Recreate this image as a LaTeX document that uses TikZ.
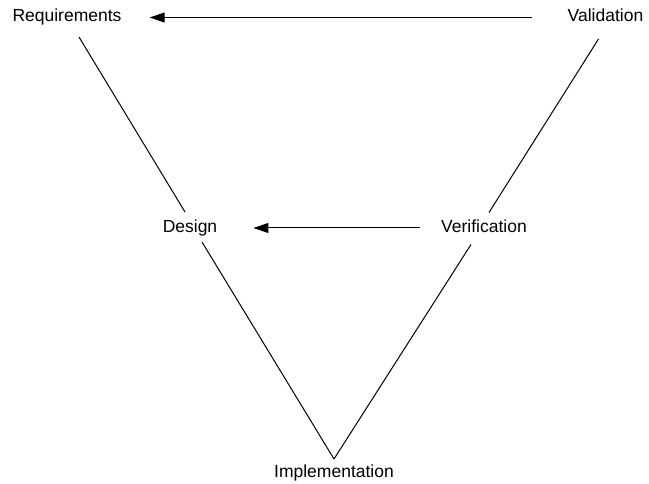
\documentclass[tikz,border=0pt]{standalone}
\usepackage{fontspec}
\setmainfont{Liberation Sans}
\usetikzlibrary{arrows.meta}

\begin{document}
\begin{tikzpicture}[x=1pt, y=-1pt,
  phase/.style={inner sep=0pt, anchor=base, text height=12pt, text depth=3pt, font=\fontsize{17.5}{20}\selectfont},
  arr/.style={-{Triangle[length=15pt, width=10pt]}, line width=1pt},
  leg/.style={line width=1pt}
]
\useasboundingbox (0,0) rectangle (649,484);

% Phases of the V
\node[phase] (req) at (67,22) {Requirements};
\node[phase] (val) at (605.5,22) {Validation};
\node[phase] (des) at (190,232.5) {Design};
\node[phase] (ver) at (484,232.5) {Verification};
\node[phase] (imp) at (334,477) {Implementation};

% Legs of the V
\draw[leg] ([shift={(12,15)}]req.base) -- ([shift={(-5,-20.5)}]des.base);
\draw[leg] ([shift={(12,9.5)}]des.base) -- ([shift={(0,-18)}]imp.base);
\draw[leg] ([shift={(-13,12)}]ver.base) -- ([shift={(0,-18)}]imp.base);
\draw[leg] ([shift={(-7,17)}]val.base) -- ([shift={(5,-20)}]ver.base);

% Feedback arrows
\draw[arr, shorten <=36pt, shorten >=28pt] (val.west) -- (req.east);
\draw[arr, shorten <=21pt, shorten >=36pt] (ver.west) -- (des.east);
\end{tikzpicture}
\end{document}
